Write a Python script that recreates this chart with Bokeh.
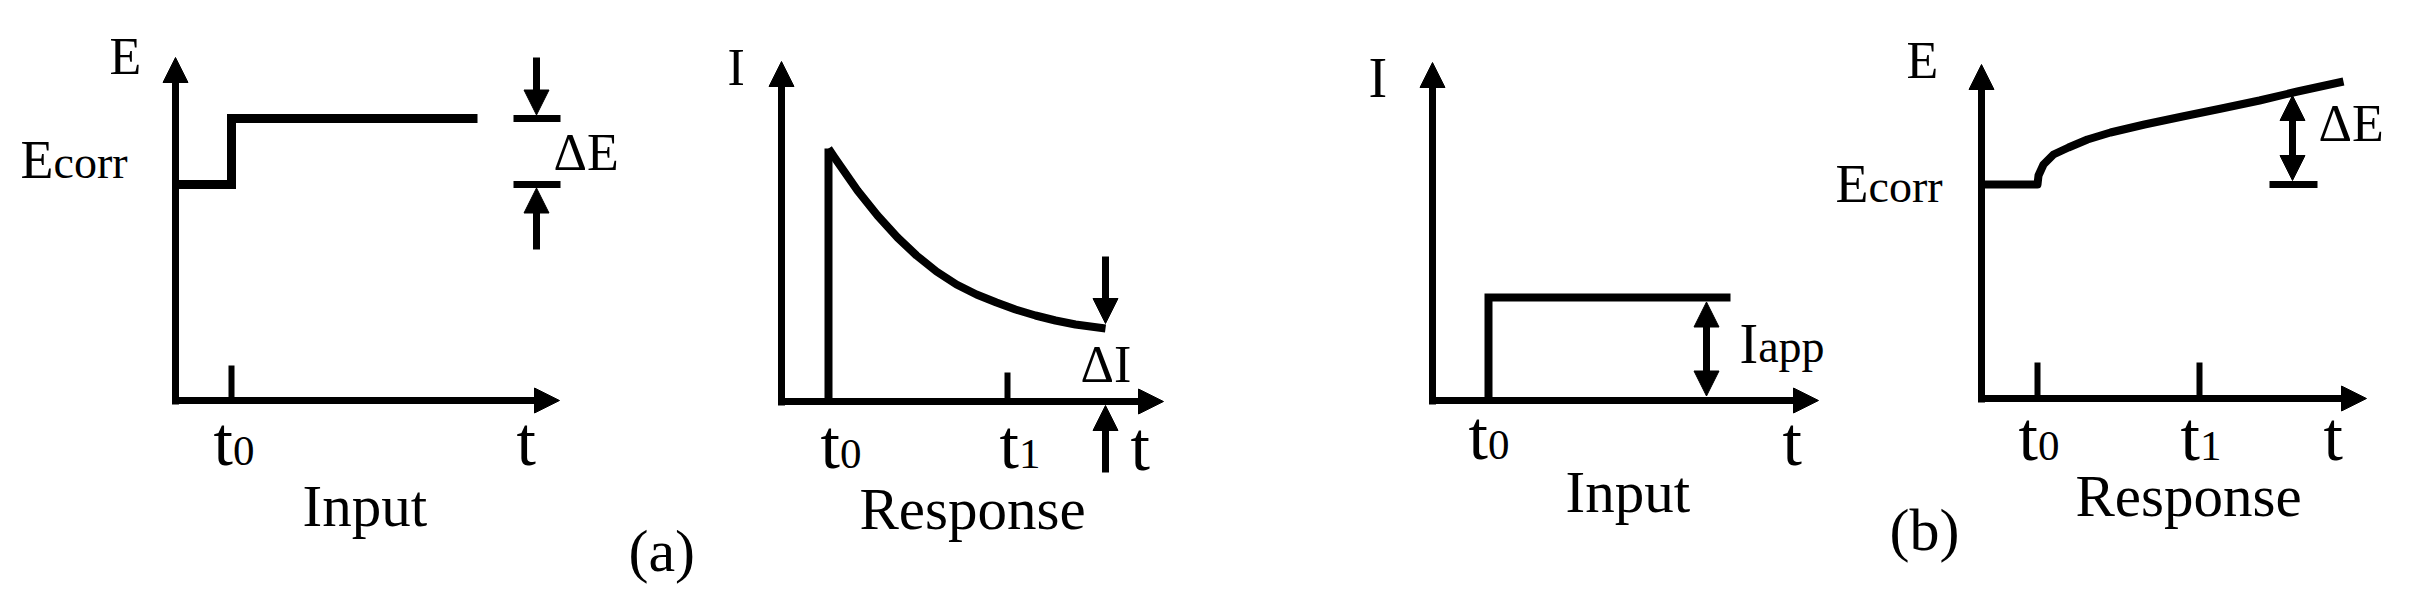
from bokeh.plotting import figure
from bokeh.layouts import row
from bokeh.models import Arrow, NormalHead, Range1d
from bokeh.core.properties import value
from bokeh.embed import file_html
from bokeh.resources import INLINE

FONT = "Liberation Serif"

# ---------------- data (arbitrary schematic units) ----------------
# (a) Input: potential step E(t)
A_IN_T = [0.0, 5.6, 5.6, 30.2]
A_IN_E = [21.6, 21.6, 28.2, 28.2]
A_IN_TICKS = [5.6]
A_IN_TICK_LABELS = ["0"]

# (a) Response: current decay I(t)
A_RESP_T0 = 4.7
A_RESP_T = [4.7, 5.3, 7.6, 9.6, 11.6, 13.5, 15.5, 17.5, 19.5, 21.5, 23.4, 25.4, 27.4, 29.4, 32.4]
A_RESP_I = [25.3, 24.4, 21.1, 18.6, 16.4, 14.6, 13.0, 11.7, 10.7, 9.9, 9.2, 8.6, 8.1, 7.7, 7.3]
A_RESP_TICKS = [4.7, 22.6]
A_RESP_TICK_LABELS = ["0", "1"]

# (b) Input: current step I(t)
B_IN_T = [5.6, 5.6, 29.8]
B_IN_I = [0.0, 10.3, 10.3]
B_IN_TICKS = [5.6]
B_IN_TICK_LABELS = ["0"]

# (b) Response: potential transient E(t)
B_RESP_T = [0.0, 5.6, 5.7, 6.2, 7.2, 8.7, 10.6, 12.9, 16.3, 20.1, 24.0, 27.8, 31.6, 36.2]
B_RESP_E = [21.4, 21.4, 22.3, 23.4, 24.4, 25.1, 25.9, 26.6, 27.4, 28.2, 29.0, 29.8, 30.7, 31.7]
B_RESP_TICKS = [5.6, 21.8]
B_RESP_TICK_LABELS = ["0", "1"]

# ---------------- helpers ----------------
S = 10.0  # px per unit
H = 610


def panel(w, x0, ox, oy):
    p = figure(width=w, height=H,
               x_range=Range1d((x0 - ox) / S, (x0 + w - ox) / S),
               y_range=Range1d((oy - H) / S, oy / S),
               output_backend="svg", toolbar_location=None,
               x_axis_type=None, y_axis_type=None,
               min_border=0, outline_line_color=None,
               background_fill_color="white", border_fill_color="white")
    p.grid.visible = False
    return p


def head(size=25):
    return NormalHead(size=size, fill_color="black", line_color="black", line_width=1)


def arrow(p, x0, y0, x1, y1, lw=7, both=False, size=25):
    p.add_layout(Arrow(end=head(size), start=head(size) if both else None,
                       x_start=x0, y_start=y0, x_end=x1, y_end=y1,
                       line_width=lw, line_color="black"))


def axes(p, xtip, ytip):
    arrow(p, 0, -0.4, 0, ytip, lw=7)
    arrow(p, -0.35, 0, xtip, 0, lw=7)


def label(p, x, y, s, size):
    # y is the text baseline; anchor the text box at its middle
    ymid = y + 0.3375 * size / S
    p.text(x=[x], y=[ymid], text=[s], text_font=value(FONT),
           text_font_size=f"{size}px", text_baseline="middle",
           text_align="left", text_color="black")


def two_size(p, x, y, big, small, bsize, ssize, adv):
    label(p, x, y, big, bsize)
    label(p, x + adv * bsize / S, y, small, ssize)


def tlabel(p, x, y, sub):
    label(p, x, y, "t", 70)
    if sub:
        label(p, x + 0.278 * 70 / S, y, sub, 43)


def ticks(p, xs, h):
    p.segment(x0=xs, y0=[0] * len(xs), x1=xs, y1=[h] * len(xs),
              line_width=6, line_color="black")


# ---------------- (a) input ----------------
p1 = panel(622, 0, 175, 400)
axes(p1, 38.4, 34.3)
p1.line(A_IN_T, A_IN_E, line_width=9, line_color="black", line_join="miter")
ticks(p1, A_IN_TICKS, 3.5)
e_lo, e_hi = A_IN_E[0], A_IN_E[-1]
p1.segment(x0=[33.8, 33.8], y0=[e_hi, e_lo], x1=[38.5, 38.5], y1=[e_hi, e_lo],
           line_width=7, line_color="black")
arrow(p1, 36.1, 34.3, 36.1, e_hi + 0.35, lw=7)
arrow(p1, 36.1, 15.1, 36.1, e_lo - 0.35, lw=7)
label(p1, -6.6, 32.6, "E", 52)
two_size(p1, -15.5, 22.2, "E", "corr", 54, 46, 0.611)
label(p1, 37.8, 23.0, "\u0394E", 52)
tlabel(p1, A_IN_TICKS[0] - 1.8, -6.5, A_IN_TICK_LABELS[0])
tlabel(p1, 34.1, -6.5, "")
label(p1, 12.7, -12.5, "Input", 59)

# ---------------- (a) response ----------------
p2 = panel(618, 622, 781, 401)
axes(p2, 38.2, 34.0)
p2.segment(x0=[A_RESP_T0], y0=[0], x1=[A_RESP_T0], y1=[A_RESP_I[0]],
           line_width=8, line_color="black")
p2.line(A_RESP_T, A_RESP_I, line_width=8, line_color="black", line_join="round")
ticks(p2, A_RESP_TICKS[1:], 2.9)
xe = A_RESP_T[-1]
arrow(p2, xe, 14.5, xe, A_RESP_I[-1] + 0.5, lw=7)
arrow(p2, xe, -7.1, xe, -0.4, lw=7)
label(p2, -5.4, 31.6, "I", 52)
label(p2, 29.9, 1.9, "\u0394I", 52)
for tx, sub in zip(A_RESP_TICKS, A_RESP_TICK_LABELS):
    tlabel(p2, tx - 0.8, -6.7, sub)
tlabel(p2, 34.9, -6.9, "")
label(p2, 7.8, -12.7, "Response", 59)
label(p2, -15.3, -17.0, "(a)", 60)

# ---------------- (b) input ----------------
p3 = panel(590, 1240, 1432, 400)
axes(p3, 38.6, 33.8)
p3.line(B_IN_T, B_IN_I, line_width=8, line_color="black", line_join="miter")
arrow(p3, 27.4, 0.45, 27.4, B_IN_I[-1] - 0.45, lw=7, both=True)
label(p3, -6.4, 30.4, "I", 56)
two_size(p3, 30.7, 3.8, "I", "app", 56, 46, 0.333)
tlabel(p3, B_IN_TICKS[0] - 2.0, -5.9, B_IN_TICK_LABELS[0])
tlabel(p3, 35.0, -6.5, "")
label(p3, 13.3, -11.1, "Input", 59)

# ---------------- (b) response ----------------
p4 = panel(588, 1830, 1981, 398)
axes(p4, 38.5, 33.4)
p4.line(B_RESP_T, B_RESP_E, line_width=8, line_color="black", line_join="round")
ticks(p4, B_RESP_TICKS, 3.6)
ecorr = B_RESP_E[0]
p4.segment(x0=[28.8], y0=[ecorr], x1=[33.6], y1=[ecorr], line_width=7, line_color="black")
arrow(p4, 31.1, ecorr + 0.4, 31.1, 30.3, lw=7, both=True)
label(p4, -7.5, 32.0, "E", 52)
two_size(p4, -14.6, 19.6, "E", "corr", 54, 46, 0.611)
label(p4, 33.7, 25.7, "\u0394E", 52)
for tx, sub in zip(B_RESP_TICKS, B_RESP_TICK_LABELS):
    tlabel(p4, tx - 1.9, -6.2, sub)
tlabel(p4, 34.2, -6.2, "")
label(p4, 9.4, -11.7, "Response", 59)
label(p4, -9.2, -15.2, "(b)", 60)

layout = row(p1, p2, p3, p4, spacing=0)
open("out.html", "w").write(file_html(layout, INLINE))
